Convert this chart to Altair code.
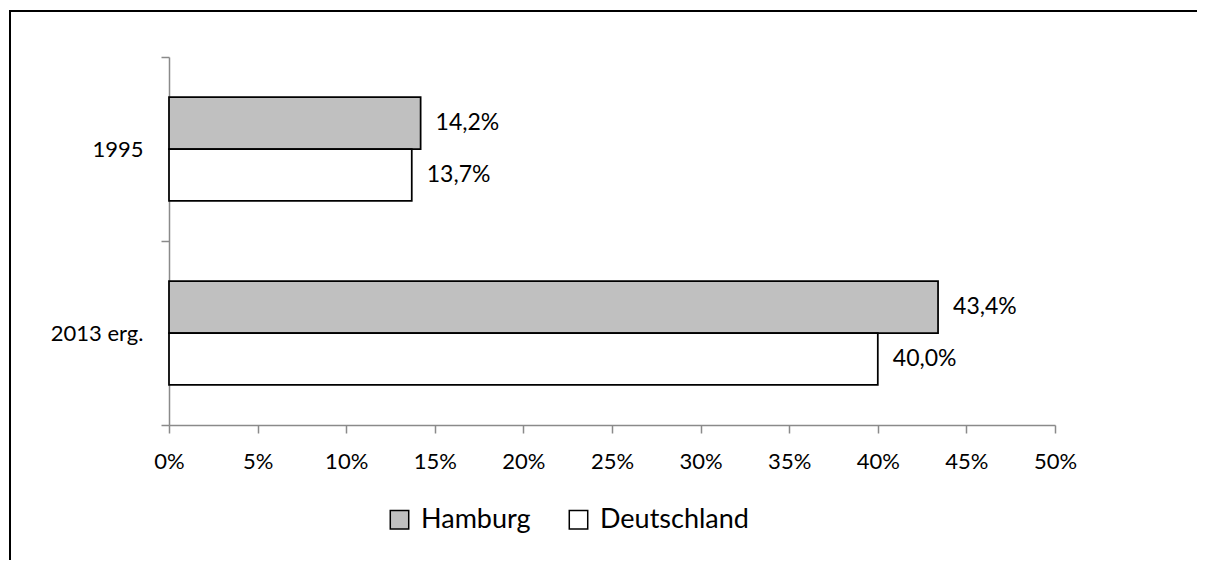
import altair as alt
import pandas as pd

categories = ["1995", "2013 erg."]
series = ["Hamburg", "Deutschland"]
hamburg = [14.2, 43.4]
deutschland = [13.7, 40.0]
x_ticks = [0, 5, 10, 15, 20, 25, 30, 35, 40, 45, 50]
colors = ["#c0c0c0", "#ffffff"]

rows = []
for i, c in enumerate(categories):
    for s, vals in zip(series, [hamburg, deutschland]):
        v = vals[i]
        rows.append({"cat": c, "series": s, "value": v,
                     "label": f"{v:.1f}".replace(".", ",") + "%"})
df = pd.DataFrame(rows)

FONT = "Lato"
AX = "#8a8a8a"

base = alt.Chart(df)

y_enc = alt.Y("cat:N", sort=categories, title=None,
              scale=alt.Scale(paddingInner=0, paddingOuter=0),
              axis=alt.Axis(tickBand="extent", domainColor=AX, tickColor=AX,
                            domainWidth=1.5, tickWidth=1.5, tickSize=8,
                            labelPadding=18, labelFont=FONT, labelFontSize=22,
                            labelColor="black", labelAlign="right"))
yoff = alt.YOffset("series:N", sort=series,
                   scale=alt.Scale(paddingInner=0, paddingOuter=0.77))
x_enc = alt.X("value:Q", title=None,
              scale=alt.Scale(domain=[0, 50], nice=False),
              axis=alt.Axis(values=x_ticks, labelExpr="datum.value + '%'",
                            grid=False, domainColor=AX, tickColor=AX,
                            domainWidth=1.5, tickWidth=1.5, tickSize=8,
                            labelFlush=False,
                            labelPadding=18, labelFont=FONT, labelFontSize=22,
                            labelColor="black"))

bars = base.mark_bar(stroke="black", strokeWidth=1.75).encode(
    x=x_enc, y=y_enc, yOffset=yoff,
    fill=alt.Fill("series:N", sort=series,
                  scale=alt.Scale(domain=series, range=colors),
                  legend=alt.Legend(title=None, orient="none", direction="horizontal",
                                    legendX=217, legendY=449, padding=0,
                                    symbolType="square", symbolSize=340,
                                    symbolStrokeColor="black", symbolStrokeWidth=1.5,
                                    symbolOpacity=1,
                                    labelFont=FONT, labelFontSize=27, labelColor="black",
                                    labelOffset=8, columnPadding=34)),
)

texts = base.mark_text(align="left", baseline="middle", dx=15, font=FONT,
                       fontSize=23, color="black").encode(
    x="value:Q", y=alt.Y("cat:N", sort=categories), yOffset=yoff, text="label:N")

frame = pd.DataFrame({"a": [0]})
border_top = alt.Chart(frame).mark_rule(color="black", strokeWidth=2).encode(
    x=alt.value(-160), x2=alt.value(1300), y=alt.value(-46))
border_left = alt.Chart(frame).mark_rule(color="black", strokeWidth=2).encode(
    x=alt.value(-159), y=alt.value(-47), y2=alt.value(700))

chart = alt.layer(bars, texts, border_top, border_left).properties(
    width=886, height=368,
    autosize=alt.AutoSizeParams(type="none"),
    padding={"left": 161, "top": 49, "right": 142, "bottom": 135},
).configure_view(stroke="transparent")

chart.save("out.html", embed_options={"renderer": "svg", "actions": False})
